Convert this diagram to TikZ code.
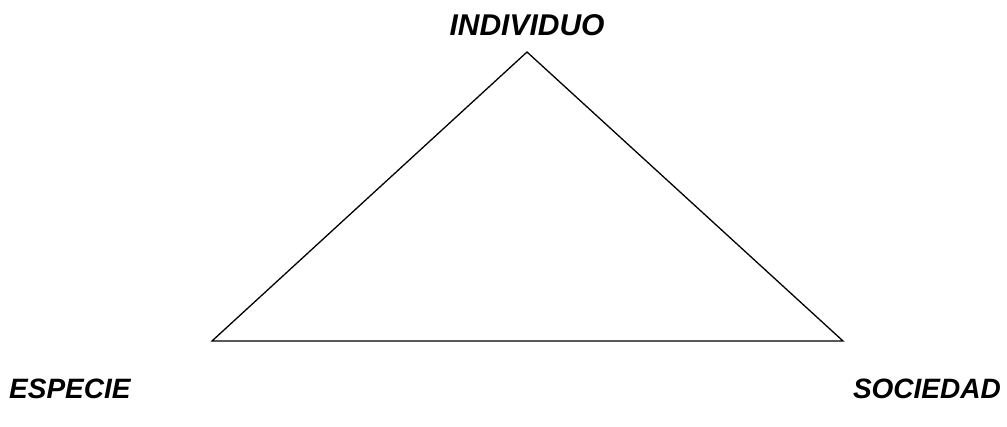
\documentclass[tikz,border=0pt]{standalone}
\usepackage{fontspec}
\setmainfont{Liberation Sans}
\begin{document}
\begin{tikzpicture}[x=1pt,y=-1pt,
  lbl/.style={font=\fontsize{30}{34}\selectfont\bfseries\itshape, inner sep=0pt},
  sidelbl/.style={lbl, font=\fontsize{28}{32}\selectfont\bfseries\itshape}]
\useasboundingbox (0,0) rectangle (1007,426);
\coordinate (top) at (527,52);
\coordinate (bl) at (212,341);
\coordinate (br) at (843,341);
\draw[line width=1.3pt, line join=miter] (top) -- (bl) -- (br) -- cycle;
\node[lbl, anchor=base] (ind) at (527,35) {INDIVIDUO};
\node[sidelbl, anchor=base west] (esp) at (9,398) {ESPECIE};
\node[sidelbl, anchor=base east] (soc) at (1001,398) {SOCIEDAD};
\end{tikzpicture}
\end{document}
